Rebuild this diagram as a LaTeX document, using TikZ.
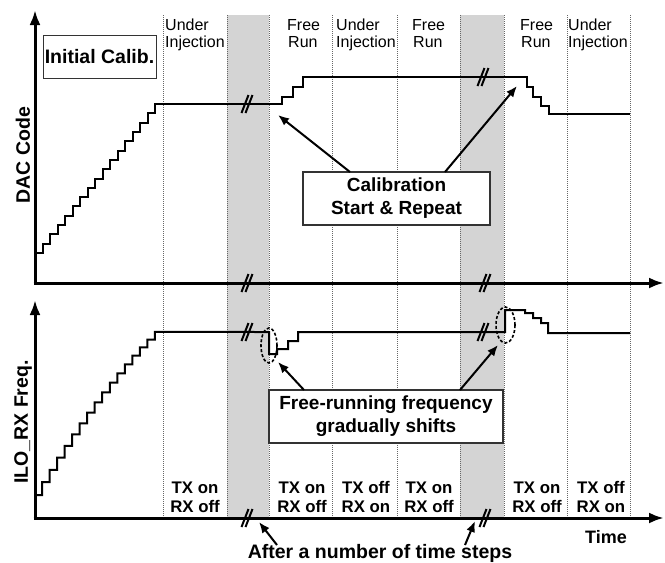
\documentclass[tikz,border=0pt]{standalone}
\usepackage{fontspec}
\setmainfont{Liberation Sans}
\usetikzlibrary{arrows.meta}
\begin{document}
\begin{tikzpicture}[x=1pt,y=-1pt,
  hdr/.style={font=\fontsize{16}{17}\selectfont, inner sep=0pt, anchor=base west},
  txl/.style={font=\bfseries\fontsize{16.8}{19}\selectfont, align=center, inner sep=0pt},
  big/.style={font=\bfseries\fontsize{19}{23}\selectfont},
  axlbl/.style={font=\bfseries\fontsize{19.5}{20}\selectfont, rotate=90, inner sep=0pt},
  band/.style={fill=black!17, draw=none},
  sep/.style={draw=black!60, line width=0.7pt, dash pattern=on 1pt off 1pt},
  curve/.style={line width=2pt, line join=miter},
  axis/.style={line width=3pt, -{Latex[length=15pt,width=11pt]}},
  callout/.style={line width=2pt, -{Latex[length=11pt,width=9pt]}},
  ell/.style={line width=1.6pt, dash pattern=on 3pt off 2pt},
  textbox/.style={draw=black!80, fill=white, inner sep=0pt, align=center},
  brk/.pic={
    \draw[line width=2pt] (-5.5,9) -- (1.5,-9);
    \draw[line width=2pt] (-1.5,9) -- (5.5,-9);
  }
]
\useasboundingbox (0,0) rectangle (665,563);

% grey bands
\fill[band] (227,15) rectangle (269,518);
\fill[band] (460,15) rectangle (504,518);

% dotted separators
\foreach \x in {163,227,269,332,397,460,504,567,630}
  \draw[sep] (\x,15) -- (\x,518);

% header labels
\node[hdr] (u1a) at (165,30) {Under};
\node[hdr] (u1b) at (165,47) {Injection};
\node[hdr] (f1a) at (287,30) {Free};
\node[hdr] (f1b) at (288,47) {Run};
\node[hdr] (u2a) at (336,30) {Under};
\node[hdr] (u2b) at (336,47) {Injection};
\node[hdr] (f2a) at (412,30) {Free};
\node[hdr] (f2b) at (413,47) {Run};
\node[hdr] (f3a) at (520,30) {Free};
\node[hdr] (f3b) at (521,47) {Run};
\node[hdr] (u3a) at (568,30) {Under};
\node[hdr] (u3b) at (568,47) {Injection};

% DAC code curve
\draw[curve] (35,253) -- (43,253)
  \foreach \i in {1,...,15} { -- ++(0,-9.3125) -- ++(7.467,0) }
  -- ++(0,-9.3125)
  -- (282,104) -- (282,97) -- (293,97) -- (293,87) -- (303,87) -- (303,77)
  -- (527,77) -- (527,87) -- (533,87) -- (533,97) -- (541,97) -- (541,106)
  -- (549,106) -- (549,114) -- (630,114);

% ILO RX frequency curve
\draw[curve] (35,495) -- (42,495)
  \foreach \i in {0,...,14} { -- ++(0,{-(12.8-0.348*\i)}) -- ++(7.53,0) }
  -- ++(0,-7.58)
  -- (269,332) -- (269,354) -- (277,354) -- (277,349) -- (288,349) -- (288,341)
  -- (298,341) -- (298,332) -- (505,332) -- (505,310) -- (525,310) -- (525,313)
  -- (533,313) -- (533,318) -- (541,318) -- (541,323) -- (548,323) -- (548,333)
  -- (630,333);

% axes
\coordinate (o1) at (35,283);
\coordinate (y1) at (35,10);
\coordinate (x1) at (664,283);
\coordinate (o2) at (35,518);
\coordinate (y2) at (35,300);
\coordinate (x2) at (664,518);
\draw[axis] ([yshift=-1.5pt]o1) -- (y1);
\draw[axis] ([xshift=-1.5pt]o1) -- (x1);
\draw[axis] ([yshift=-1.5pt]o2) -- (y2);
\draw[axis] ([xshift=-1.5pt]o2) -- (x2);

% break marks
\pic at (247,104) {brk};
\pic at (483,77) {brk};
\pic at (247,283) {brk};
\pic at (485,283) {brk};
\pic at (247,332) {brk};
\pic at (483,332) {brk};
\pic at (247,518) {brk};
\pic at (485,518) {brk};

% axis labels
\node[axlbl] (ylab1) at (23,155) {DAC Code};
\node[axlbl] (ylab2) at (23,422) {ILO\_RX Freq.};
\node[font=\bfseries\fontsize{18}{20}\selectfont, inner sep=0pt, anchor=base] (time) at (606,543) {Time};

% boxes
\node[textbox, line width=1pt, minimum width=113pt, minimum height=43pt,
      font=\bfseries\fontsize{19.5}{20}\selectfont] (init) at (99.5,56.5) {Initial Calib.};
\node[textbox, line width=1.3pt, minimum width=187pt, minimum height=53pt, big]
      (cal) at (396.5,198.5) {Calibration\\Start \& Repeat};
\node[textbox, line width=1.3pt, minimum width=234pt, minimum height=53pt, big]
      (frb) at (386,416.5) {Free-running frequency\\gradually shifts};

% ellipses
\draw[ell] (269,345.5) ellipse [x radius=8pt, y radius=17.5pt];
\draw[ell] (505.5,325) ellipse [x radius=9.5pt, y radius=18pt];

% callout arrows
\coordinate (calA) at (350,172);
\coordinate (calB) at (445,172);
\coordinate (tipA) at (278,115);
\coordinate (tipB) at (517,86);
\draw[callout] (calA) -- (tipA);
\draw[callout] (calB) -- (tipB);
\coordinate (frA) at (304,390);
\coordinate (frB) at (460,390);
\coordinate (etA) at (278,362);
\coordinate (etB) at (498,345);
\draw[callout] (frA) -- (etA);
\draw[callout] (frB) -- (etB);

% TX / RX labels
\node[txl] (s1) at (195,497) {TX on\\RX off};
\node[txl] (s2) at (302,497) {TX on\\RX off};
\node[txl] (s3) at (366,497) {TX off\\RX on};
\node[txl] (s4) at (429,497) {TX on\\RX off};
\node[txl] (s5) at (537,497) {TX on\\RX off};
\node[txl] (s6) at (601,497) {TX off\\RX on};

% after a number of time steps
\node[font=\bfseries\fontsize{19.5}{20}\selectfont, inner sep=0pt, anchor=base] (after) at (380,558) {After a number of time steps};
\coordinate (afA) at (277,545);
\coordinate (afB) at (465,545);
\coordinate (bkA) at (259,522);
\coordinate (bkB) at (475,521);
\draw[callout] (afA) -- (bkA);
\draw[callout] (afB) -- (bkB);
\end{tikzpicture}
\end{document}
